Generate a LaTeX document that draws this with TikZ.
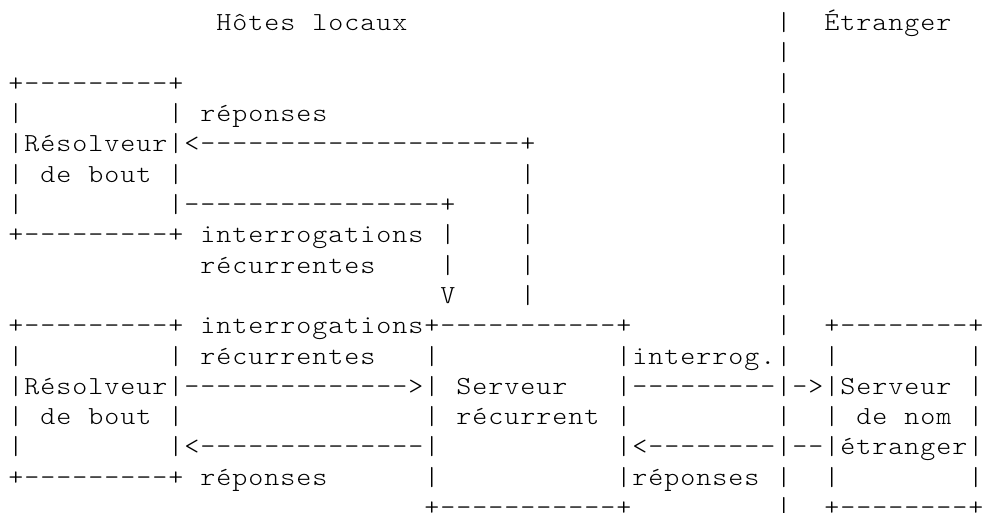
\documentclass[tikz,border=0pt]{standalone}
\usepackage{fontspec}
\newfontfamily\asciifont{lmmonolt10-regular.otf}[FakeStretch=1.1]
\frenchspacing
\makeatletter
\def\ascii@end{\ascii@end}
\newcommand\asciirow[1]{\ascii@row#1\ascii@end}
\def\ascii@row#1{\ifx#1\ascii@end\else\hbox to 16pt{\hss#1\hss}\expandafter\ascii@row\fi}
\makeatother
\begin{document}
\begin{tikzpicture}[x=1pt,y=1pt,
  asciiline/.style={anchor=base west, inner sep=0pt, outer sep=0pt,
    font=\asciifont\fontsize{26pt}{30pt}\selectfont, text=black}]
\useasboundingbox[fill=white] (0,0) rectangle (984,-513);
\def\lx{8}
\node[asciiline] (l1)  at (\lx,-30.7)  {\asciirow{~~~~~~~~~~~~~Hôtes~locaux~~~~~~~~~~~~~~~~~~~~~~~|~~Étranger}};
\node[asciiline] (l2)  at (\lx,-61.0)  {\asciirow{~~~~~~~~~~~~~~~~~~~~~~~~~~~~~~~~~~~~~~~~~~~~~~~~|}};
\node[asciiline] (l3)  at (\lx,-91.3)  {\asciirow{+---------+~~~~~~~~~~~~~~~~~~~~~~~~~~~~~~~~~~~~~|}};
\node[asciiline] (l4)  at (\lx,-121.6) {\asciirow{|~~~~~~~~~|~réponses~~~~~~~~~~~~~~~~~~~~~~~~~~~~|}};
\node[asciiline] (l5)  at (\lx,-151.9) {\asciirow{|Résolveur|<--------------------+~~~~~~~~~~~~~~~|}};
\node[asciiline] (l6)  at (\lx,-182.2) {\asciirow{|~de~bout~|~~~~~~~~~~~~~~~~~~~~~|~~~~~~~~~~~~~~~|}};
\node[asciiline] (l7)  at (\lx,-212.5) {\asciirow{|~~~~~~~~~|----------------+~~~~|~~~~~~~~~~~~~~~|}};
\node[asciiline] (l8)  at (\lx,-242.8) {\asciirow{+---------+~interrogations~|~~~~|~~~~~~~~~~~~~~~|}};
\node[asciiline] (l9)  at (\lx,-273.1) {\asciirow{~~~~~~~~~~~~récurrentes~~~~|~~~~|~~~~~~~~~~~~~~~|}};
\node[asciiline] (l10) at (\lx,-303.4) {\asciirow{~~~~~~~~~~~~~~~~~~~~~~~~~~~V~~~~|~~~~~~~~~~~~~~~|}};
\node[asciiline] (l11) at (\lx,-333.7) {\asciirow{+---------+~interrogations+-----------+~~~~~~~~~|~~+--------+}};
\node[asciiline] (l12) at (\lx,-364.0) {\asciirow{|~~~~~~~~~|~récurrentes~~~|~~~~~~~~~~~|interrog.|~~|~~~~~~~~|}};
\node[asciiline] (l13) at (\lx,-394.3) {\asciirow{|Résolveur|-------------->|~Serveur~~~|---------|->|Serveur~|}};
\node[asciiline] (l14) at (\lx,-424.6) {\asciirow{|~de~bout~|~~~~~~~~~~~~~~~|~récurrent~|~~~~~~~~~|~~|~de~nom~|}};
\node[asciiline] (l15) at (\lx,-454.9) {\asciirow{|~~~~~~~~~|<--------------|~~~~~~~~~~~|<--------|--|étranger|}};
\node[asciiline] (l16) at (\lx,-485.2) {\asciirow{+---------+~réponses~~~~~~|~~~~~~~~~~~|réponses~|~~|~~~~~~~~|}};
\node[asciiline] (l17) at (\lx,-515.5) {\asciirow{~~~~~~~~~~~~~~~~~~~~~~~~~~+-----------+~~~~~~~~~|~~+--------+}};
\end{tikzpicture}
\end{document}
